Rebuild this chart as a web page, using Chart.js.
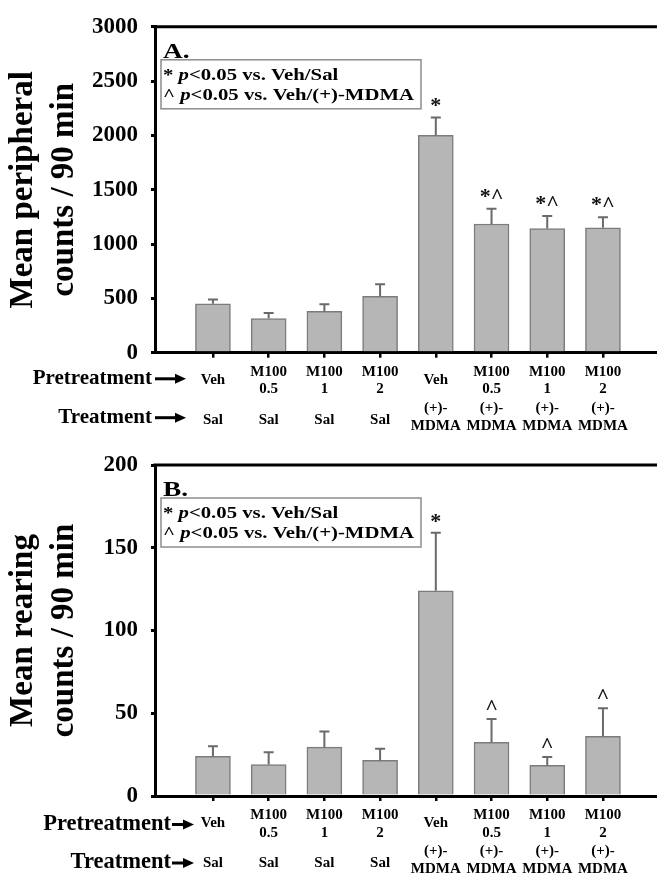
<!DOCTYPE html>
<html>
<head>
<meta charset="utf-8">
<script src="https://cdn.jsdelivr.net/npm/chart.js@4.4.0/dist/chart.umd.min.js"></script>
<style>
html, body { margin: 0; padding: 0; background: #fff; }
#wrap { position: relative; width: 657px; height: 875px; overflow: hidden; }
canvas { position: absolute; left: 0; }
</style>
</head>
<body>
<div id="wrap">
  <canvas id="chartA" width="657" height="437" style="top:0"></canvas>
  <canvas id="chartB" width="657" height="438" style="top:437px"></canvas>
</div>
<script>
const pretreatment = [['Veh'], ['M100', '0.5'], ['M100', '1'], ['M100', '2'],
                      ['Veh'], ['M100', '0.5'], ['M100', '1'], ['M100', '2']];
const treatment = [['Sal'], ['Sal'], ['Sal'], ['Sal'],
                   ['(+)-', 'MDMA'], ['(+)-', 'MDMA'], ['(+)-', 'MDMA'], ['(+)-', 'MDMA']];

const peripheralMean = [450, 315, 380, 520, 2000, 1185, 1143, 1150];
const peripheralSem = [40, 50, 65, 110, 165, 140, 115, 97];
const peripheralSig = ['', '', '', '', '*', '*^', '*^', '*^'];
const peripheralTicks = [0, 500, 1000, 1500, 2000, 2500, 3000];

const rearingMean = [24, 19, 29.5, 21.5, 124, 32.5, 18.5, 36];
const rearingSem = [6, 7.5, 9.5, 7, 35, 14, 5, 17];
const rearingSig = ['', '', '', '', '*', '^', '^', '^'];
const rearingTicks = [0, 50, 100, 150, 200];

const SERIF = '"Liberation Serif", "Times New Roman", serif';

// draw a row of text pieces, some italic, optionally stretched sideways
function drawRuns(ctx, runs, x, y, size, sx) {
  ctx.save();
  ctx.translate(x, y);
  ctx.scale(sx, 1);
  ctx.textAlign = 'left';
  ctx.textBaseline = 'alphabetic';
  let cx = 0;
  for (const [s, italic] of runs) {
    ctx.font = (italic ? 'italic ' : '') + 'bold ' + size + 'px ' + SERIF;
    ctx.fillText(s, cx, 0);
    cx += ctx.measureText(s).width;
  }
  ctx.restore();
}

function arrow(ctx, x1, x2, y) {
  ctx.save();
  ctx.strokeStyle = '#000';
  ctx.fillStyle = '#000';
  ctx.lineWidth = 3;
  ctx.beginPath();
  ctx.moveTo(x1, y);
  ctx.lineTo(x2 - 8, y);
  ctx.stroke();
  ctx.beginPath();
  ctx.moveTo(x2, y);
  ctx.lineTo(x2 - 11, y - 5);
  ctx.lineTo(x2 - 11, y + 5);
  ctx.closePath();
  ctx.fill();
  ctx.restore();
}

function makePanel(id, cfg) {
  const decor = {
    id: 'decor',
    afterDatasetsDraw(chart) {
      const ctx = chart.ctx;
      const xs = chart.scales.x, ys = chart.scales.y;

      // error bars (upper half only)
      ctx.save();
      ctx.strokeStyle = '#6a6a6a';
      ctx.lineWidth = 2;
      cfg.mean.forEach((m, i) => {
        const x = xs.getPixelForValue(i);
        const y0 = ys.getPixelForValue(m);
        const y1 = ys.getPixelForValue(m + cfg.sem[i]);
        ctx.beginPath();
        ctx.moveTo(x, y0);
        ctx.lineTo(x, y1);
        ctx.moveTo(x - 5, y1);
        ctx.lineTo(x + 5, y1);
        ctx.stroke();
      });
      ctx.restore();

      // significance marks
      ctx.save();
      ctx.fillStyle = '#111';
      ctx.font = 'bold 22px ' + SERIF;
      ctx.textAlign = 'center';
      ctx.textBaseline = 'alphabetic';
      cfg.sig.forEach((s, i) => {
        if (!s) return;
        const x = xs.getPixelForValue(i);
        const y1 = ys.getPixelForValue(cfg.mean[i] + cfg.sem[i]);
        ctx.fillText(s, x, y1 - cfg.sigGap);
      });
      ctx.restore();
    },
    afterDraw(chart) {
      const ctx = chart.ctx;
      const xs = chart.scales.x;
      const area = chart.chartArea;

      // top frame line
      ctx.save();
      ctx.strokeStyle = '#000';
      ctx.lineWidth = 3;
      ctx.beginPath();
      ctx.moveTo(area.left - 1.5, area.top);
      ctx.lineTo(area.right, area.top);
      ctx.stroke();
      ctx.restore();

      // panel letter
      ctx.fillStyle = '#000';
      drawRuns(ctx, [[cfg.letter, false]], area.left + 8, area.top + 31, 21, 1.3);

      // legend box
      const bx = area.left + 6, by = area.top + 33;
      ctx.save();
      ctx.fillStyle = '#fff';
      ctx.strokeStyle = '#8c8c8c';
      ctx.lineWidth = 1.5;
      ctx.fillRect(bx, by, 260, 49);
      ctx.strokeRect(bx, by, 260, 49);
      ctx.restore();
      ctx.fillStyle = '#000';
      drawRuns(ctx, [['* ', false], ['p', true], ['<0.05 vs. Veh/Sal', false]], bx + 2, by + 20, 17, 1.22);
      drawRuns(ctx, [['^ ', false], ['p', true], ['<0.05 vs. Veh/(+)-MDMA', false]], bx + 2, by + 40, 17, 1.22);

      // y title, two rotated lines
      ctx.save();
      ctx.fillStyle = '#000';
      ctx.font = 'bold 33px ' + SERIF;
      ctx.textAlign = 'center';
      ctx.textBaseline = 'alphabetic';
      ctx.translate(0, (area.top + area.bottom) / 2);
      ctx.rotate(-Math.PI / 2);
      ctx.fillText(cfg.title[0], 0, 32);
      ctx.fillText(cfg.title[1], 0, 73);
      ctx.restore();

      // category labels
      const base = area.bottom;
      ctx.save();
      ctx.fillStyle = '#000';
      ctx.font = 'bold 15px ' + SERIF;
      ctx.textAlign = 'center';
      ctx.textBaseline = 'alphabetic';
      pretreatment.forEach((lines, i) => {
        const x = xs.getPixelForValue(i);
        if (lines.length === 1) {
          ctx.fillText(lines[0], x, base + 31);
        } else {
          ctx.fillText(lines[0], x, base + 23);
          ctx.fillText(lines[1], x, base + 40.5);
        }
      });
      treatment.forEach((lines, i) => {
        const x = xs.getPixelForValue(i);
        if (lines.length === 1) {
          ctx.fillText(lines[0], x, base + cfg.salY);
        } else {
          ctx.fillText(lines[0], x, base + cfg.salY - 12);
          ctx.fillText(lines[1], x, base + cfg.salY + 6);
        }
      });

      // row headers with arrows
      ctx.font = 'bold ' + cfg.rowFont + 'px ' + SERIF;
      ctx.textAlign = 'right';
      ctx.fillText('Pretreatment', cfg.rowRight, base + cfg.preY);
      ctx.fillText('Treatment', cfg.rowRight, base + cfg.treatY);
      ctx.restore();
      arrow(ctx, cfg.arrowX1, cfg.arrowX2, base + cfg.preY - 5.5);
      arrow(ctx, cfg.arrowX1, cfg.arrowX2, base + cfg.treatY - 5);
    }
  };

  return new Chart(document.getElementById(id), {
    type: 'bar',
    data: {
      datasets: [{
        data: cfg.mean.map((v, i) => ({ x: i, y: v })),
        backgroundColor: '#b6b6b6',
        borderColor: '#7c7c7c',
        borderWidth: 1.5,
        barThickness: 35
      }]
    },
    options: {
      responsive: false,
      animation: false,
      layout: { padding: { top: cfg.padTop, left: 0, right: 0, bottom: 0 } },
      plugins: {
        legend: { display: false },
        tooltip: { enabled: false }
      },
      scales: {
        x: {
          type: 'linear',
          offset: false,
          min: -1.04,
          max: 7.97,
          afterBuildTicks: s => { s.ticks = pretreatment.map((_, i) => ({ value: i })); },
          afterFit: s => { s.height = cfg.xHeight; },
          ticks: { display: false },
          grid: { offset: false, drawOnChartArea: false, drawTicks: true, tickLength: 5, color: '#000', lineWidth: 2.5 },
          border: { color: '#000', width: 3 }
        },
        y: {
          min: 0,
          max: cfg.ticks[cfg.ticks.length - 1],
          afterBuildTicks: s => { s.ticks = cfg.ticks.map(v => ({ value: v })); },
          afterFit: s => { s.width = 155; },
          ticks: {
            color: '#000',
            padding: 13,
            font: { family: SERIF, size: 23, weight: 'bold' },
            callback: v => String(v)
          },
          grid: { drawOnChartArea: false, tickLength: 4, color: '#000', lineWidth: 3 },
          border: { color: '#000', width: 3 }
        }
      }
    },
    plugins: [decor]
  });
}

makePanel('chartA', {
  letter: 'A.',
  mean: peripheralMean,
  sem: peripheralSem,
  sig: peripheralSig,
  ticks: peripheralTicks,
  title: ['Mean peripheral', 'counts / 90 min'],
  padTop: 22,
  xHeight: 84.3,
  sigGap: 6,
  salY: 71,
  rowFont: 21,
  rowRight: 152,
  preY: 31.6,
  treatY: 70,
  arrowX1: 155,
  arrowX2: 186
});

makePanel('chartB', {
  letter: 'B.',
  mean: rearingMean,
  sem: rearingSem,
  sig: rearingSig,
  ticks: rearingTicks,
  title: ['Mean rearing', 'counts / 90 min'],
  padTop: 28,
  xHeight: 79,
  sigGap: 5,
  salY: 70.7,
  rowFont: 22.5,
  rowRight: 171,
  preY: 34,
  treatY: 72,
  arrowX1: 172,
  arrowX2: 194
});
</script>
</body>
</html>
